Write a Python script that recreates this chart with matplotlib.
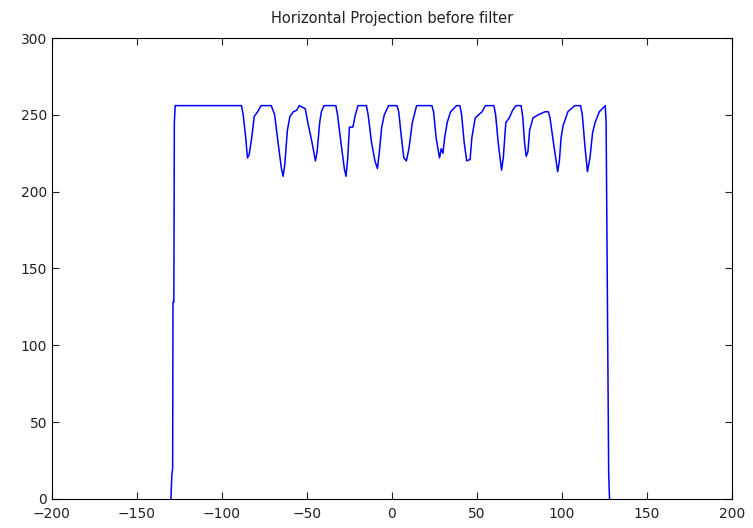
import matplotlib
matplotlib.use("Agg")
import matplotlib.pyplot as plt

# breakpoints of the projection profile
row = [-130, -129.5, -129, -128.8, -128.3, -128, -127.5,
       -88.5, -87.5, -86, -85, -84, -82.5, -81, -79, -77, -71,
       -69, -67, -65, -64, -63, -61.5, -60, -58, -56, -54.5,
       -51, -49.5, -47, -45.5, -45, -44, -42.5, -41.5, -40, -33,
       -32, -30, -28, -27, -26, -25, -23, -21.5, -20, -15,
       -14, -12, -10, -8.5, -7.5, -6, -4.5, -2, 3,
       4, 5.5, 7, 8.5, 10, 12, 14.5, 23.5,
       24.5, 26, 28, 29, 30, 31, 32.5, 34.5, 38, 40,
       41, 42.5, 44, 46, 47, 49, 53, 55, 60,
       61, 62.5, 64.5, 65.5, 67, 69, 71, 73, 76,
       77, 78, 79, 80, 81, 83, 86, 88, 90, 92,
       93, 95, 97.5, 98.5, 99.5, 100.7, 103.5, 107.5, 111,
       112, 113.5, 115, 116.5, 118, 119.5, 122, 125.5,
       126, 127.5, 128]
proj = [0, 15, 20, 128, 128, 245, 256,
        256, 250, 235, 222, 224, 235, 249, 252, 256, 256,
        250, 232, 215, 210, 218, 240, 249, 252, 253, 256,
        254, 245, 232, 223, 220, 226, 245, 252, 256, 256,
        250, 232, 215, 210, 222, 242, 242, 250, 256, 256,
        250, 232, 220, 215, 225, 242, 250, 256, 256,
        252, 236, 222, 220, 228, 245, 256, 256,
        252, 235, 222, 228, 225, 235, 245, 252, 256, 256,
        250, 232, 220, 221, 235, 248, 252, 256, 256,
        250, 232, 214, 222, 245, 248, 253, 256, 256,
        248, 232, 223, 226, 240, 248, 250, 251, 252, 252,
        248, 232, 213, 220, 235, 243, 252, 256, 256,
        250, 230, 213, 222, 238, 245, 252, 256,
        245, 17, 0]

fig = plt.figure(figsize=(7.53, 5.28), dpi=100)
ax = fig.add_axes([0.069, 0.055, 0.903, 0.873])

ax.plot(row, proj, color='#0000ff', linewidth=1.1)
ax.set_xlim(-200, 200)
ax.set_ylim(0, 300)
ax.set_xticks(range(-200, 201, 50))
ax.set_yticks(range(0, 301, 50))
ax.tick_params(direction='in', top=True, right=True, length=5, labelsize=10,
               colors='#222222')
ax.tick_params(axis='x', pad=6)
ax.set_title('Horizontal Projection before filter', fontsize=10.5, pad=11,
             color='#222222')

fig.savefig('out.png', dpi=100)
